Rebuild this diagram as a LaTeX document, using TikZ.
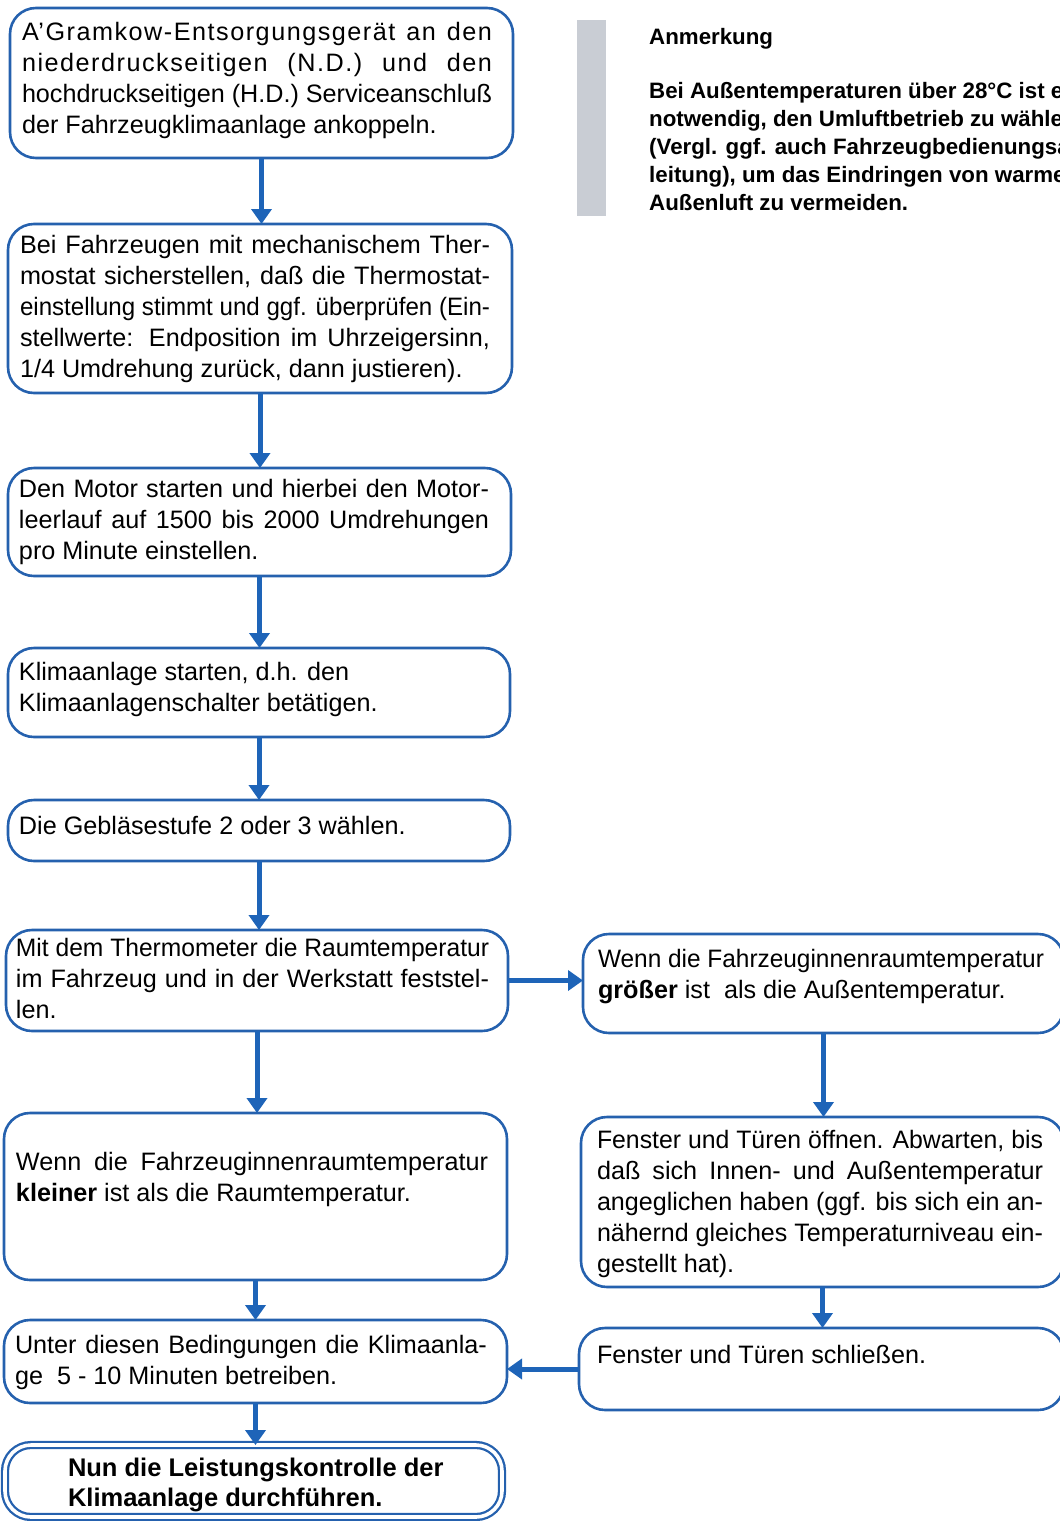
\documentclass[tikz,border=0pt]{standalone}
\usepackage{fontspec}
\usepackage{graphicx}
\setmainfont{Liberation Sans}
\newfontfamily\notefont{Liberation Sans}
\usetikzlibrary{arrows.meta}
\definecolor{flowblue}{HTML}{2561AE}
\definecolor{arrowblue}{HTML}{1E64B8}
\definecolor{bargray}{HTML}{C9CDD4}
% one justified line of a step text: spaces stretch, or the line is
% narrowed when it is wider than the text block
\newsavebox\jbox
\newcommand{\J}[1]{\sbox\jbox{#1}%
  \ifdim\wd\jbox>\linewidth\resizebox{\linewidth}{\height}{\usebox\jbox}%
  \else\makebox[\linewidth][s]{#1}\fi\\}
% letter-spaced variant
\newcommand{\JS}[1]{\J{\addfontfeature{LetterSpace=6}#1}}
\begin{document}
\begin{tikzpicture}[x=1pt,y=-1pt,
  box/.style={draw=flowblue, line width=2.6pt, rounded corners=26pt,
    inner sep=0pt, outer sep=0pt},
  txt/.style={anchor=base west, inner sep=0pt, outer sep=0pt,
    font=\fontsize{25.2}{31}\selectfont},
  flow/.style={draw=arrowblue, line width=5pt,
    -{Triangle[width=20pt,length=15pt]}}]
\useasboundingbox (0,0) rectangle (1060,1521);
\clip (0,0) rectangle (1060,1521);

% note bar and text
\fill[bargray] (577,20) rectangle (606,216);
\node[anchor=base west, inner sep=0pt, font=\notefont\bfseries\fontsize{22.3}{28}\selectfont]
  (nt) at (649,44) {Anmerkung};
\node[anchor=base west, inner sep=0pt, font=\notefont\bfseries\fontsize{22.3}{28}\selectfont]
  (nb) at (649,98) {\parbox[t]{500pt}{Bei Außentemperaturen über 28°C ist es\\
  notwendig, den Umluftbetrieb zu wählen\\
  (Vergl. ggf. auch Fahrzeugbedienungsan-\\
  leitung), um das Eindringen von warmer\\
  Außenluft zu vermeiden.}};

% left column of steps
\node[box, minimum width=503pt, minimum height=150pt] (b1) at (261.5,83) {};
\node[box, minimum width=504pt, minimum height=169pt] (b2) at (260,308.5) {};
\node[box, minimum width=503pt, minimum height=108pt] (b3) at (259.5,522) {};
\node[box, minimum width=502pt, minimum height=89pt] (b4) at (259,692.5) {};
\node[box, minimum width=502pt, minimum height=61pt] (b5) at (259,830.5) {};
\node[box, minimum width=502pt, minimum height=101pt] (b6) at (257,980.5) {};
\node[box, minimum width=503pt, minimum height=167pt] (b7) at (255.5,1196.5) {};
\node[box, minimum width=503pt, minimum height=83pt] (b8) at (255.5,1361.5) {};
\node[box, line width=2.3pt, double=white, double distance=3.6pt,
  minimum width=497pt, minimum height=72pt] (b9) at (253.5,1481) {};

% right column of steps
\node[box, minimum width=481pt, minimum height=99pt] (r1) at (823.5,983.5) {};
\node[box, minimum width=483pt, minimum height=170pt] (r2) at (822.5,1202) {};
\node[box, minimum width=485pt, minimum height=82pt] (r3) at (821.5,1369) {};

% step texts
\node[txt] (t1) at (22,40) {\parbox[t]{470pt}{%
  \JS{A'Gramkow-Entsorgungsgerät an den}
  \JS{niederdruckseitigen (N.D.) und den}
  \J{hochdruckseitigen (H.D.) Serviceanschluß}
  der Fahrzeugklimaanlage ankoppeln.}};
\node[txt] (t2) at (20,253) {\parbox[t]{470pt}{%
  \J{Bei Fahrzeugen mit mechanischem Ther-}
  \J{mostat sicherstellen, daß die Thermostat-}
  \J{einstellung stimmt und ggf. überprüfen (Ein-}
  \J{stellwerte: Endposition im Uhrzeigersinn,}
  1/4 Umdrehung zurück, dann justieren).}};
\node[txt] (t3) at (19,497) {\parbox[t]{470pt}{%
  \J{Den Motor starten und hierbei den Motor-}
  \J{leerlauf auf 1500 bis 2000 Umdrehungen}
  pro Minute einstellen.}};
\node[txt] (t4) at (19,680) {\parbox[t]{470pt}{%
  Klimaanlage starten, d.h. den\\
  Klimaanlagenschalter betätigen.}};
\node[txt] (t5) at (19,834) {Die Gebläsestufe 2 oder 3 wählen.};
\node[txt] (t6) at (16,956) {\parbox[t]{473pt}{%
  \J{Mit dem Thermometer die Raumtemperatur}
  \J{im Fahrzeug und in der Werkstatt feststel-}
  len.}};
\node[txt] (t7) at (16,1170) {\parbox[t]{472pt}{%
  \J{Wenn die Fahrzeuginnenraumtemperatur}
  \textbf{kleiner} ist als die Raumtemperatur.}};
\node[txt] (t8) at (15,1353) {\parbox[t]{472pt}{%
  \J{Unter diesen Bedingungen die Klimaanla-}
  ge\ \ 5 - 10 Minuten betreiben.}};
\node[anchor=base west, inner sep=0pt, outer sep=0pt,
  font=\notefont\bfseries\fontsize{25.5}{30}\selectfont]
  (t9) at (68,1476) {\parbox[t]{420pt}{%
  Nun die Leistungskontrolle der\\
  Klimaanlage durchführen.}};
\node[txt] (s1) at (598,967) {\parbox[t]{446pt}{%
  \J{Wenn die Fahrzeuginnenraumtemperatur}
  \textbf{größer} ist\ \ als die Außentemperatur.}};
\node[txt] (s2) at (597,1148) {\parbox[t]{446pt}{%
  \J{Fenster und Türen öffnen. Abwarten, bis}
  \J{daß sich Innen- und Außentemperatur}
  \J{angeglichen haben (ggf. bis sich ein an-}
  \J{nähernd gleiches Temperaturniveau ein-}
  gestellt hat).}};
\node[txt] (s3) at (597,1363) {Fenster und Türen schließen.};

% connectors
\draw[flow] (b1.south) -- (b1.south |- b2.north);
\draw[flow] (b2.south) -- (b2.south |- b3.north);
\draw[flow] (b3.south) -- (b3.south |- b4.north);
\draw[flow] (b4.south) -- (b4.south |- b5.north);
\draw[flow] (b5.south) -- (b5.south |- b6.north);
\draw[flow] (b6.south) -- (b6.south |- b7.north);
\draw[flow] (b7.south) -- (b7.south |- b8.north);
\draw[flow] (b8.south) -- (b8.south |- b9.north);
\draw[flow] (b6.east) -- (r1.west |- b6.east);
\draw[flow] (r1.south) -- (r1.south |- r2.north);
\draw[flow] (r2.south) -- (r2.south |- r3.north);
\draw[flow] (r3.west) -- (b8.east |- r3.west);
\end{tikzpicture}
\end{document}
